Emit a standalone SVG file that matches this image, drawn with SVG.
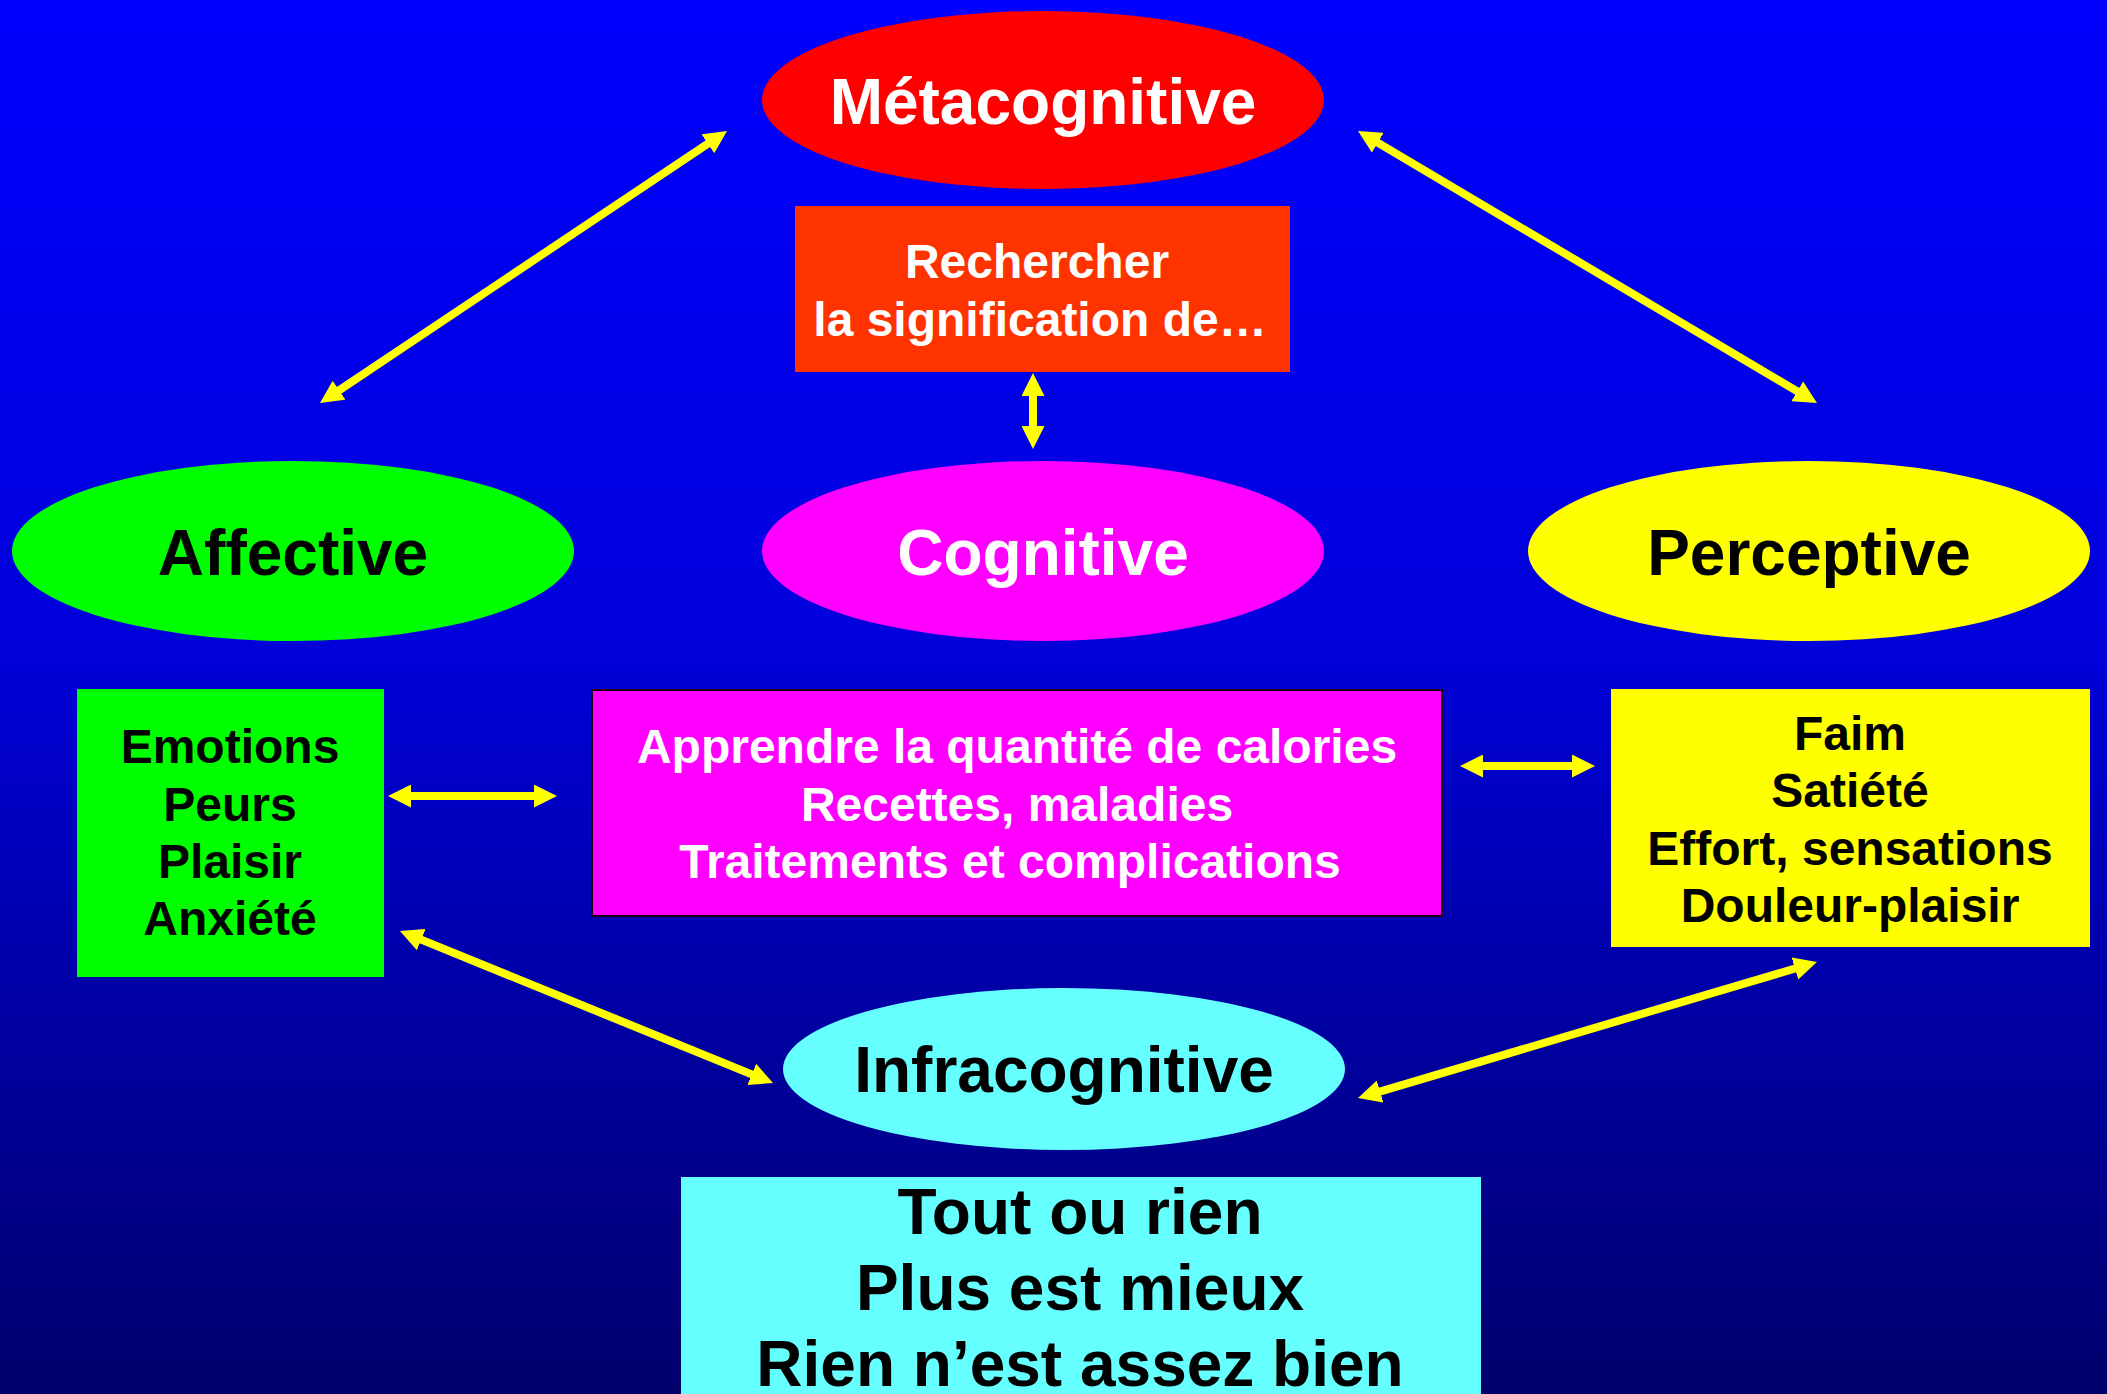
<svg xmlns="http://www.w3.org/2000/svg" width="2107" height="1394" viewBox="0 0 2107 1394">
  <defs>
    <linearGradient id="bg" x1="0" y1="0" x2="0" y2="1">
      <stop offset="0" stop-color="#0000FF"/>
      <stop offset="0.45" stop-color="#0000DC"/>
      <stop offset="1" stop-color="#00006C"/>
    </linearGradient>
    <marker id="ah" viewBox="0 0 23 23" refX="10" refY="11.5" markerWidth="23" markerHeight="23" markerUnits="userSpaceOnUse" orient="auto-start-reverse">
      <path d="M0,0 L23,11.5 L0,23 z" fill="#FFFF00"/>
    </marker>
    <style>
      .t { font-family: "Liberation Sans", Arial, sans-serif; font-weight: bold; text-anchor: middle; }
      .big { font-size: 64px; }
      .mid { font-size: 48px; }
      .w { fill: #FFFFFF; }
      .k { fill: #000000; }
      .conn line { stroke: #FFFF00; stroke-width: 8; marker-start: url(#ah); marker-end: url(#ah); }
    </style>
  </defs>

  <rect x="0" y="0" width="2107" height="1394" fill="url(#bg)"/>

  <g id="metacognitive">
    <ellipse cx="1043" cy="100" rx="281" ry="89" fill="#FF0000"/>
    <text class="t big w" x="1043" y="124">Métacognitive</text>
  </g>

  <g id="rechercher">
    <rect x="795" y="206" width="495" height="166" fill="#FF3300"/>
    <text class="t mid w" x="1037" y="278">Rechercher</text>
    <text class="t mid w" x="1040" y="336">la signification de…</text>
  </g>

  <g id="affective">
    <ellipse cx="293" cy="551" rx="281" ry="90" fill="#00FF00"/>
    <text class="t big k" x="293" y="575">Affective</text>
  </g>

  <g id="cognitive">
    <ellipse cx="1043" cy="551" rx="281" ry="90" fill="#FF00FF"/>
    <text class="t big w" x="1043" y="575">Cognitive</text>
  </g>

  <g id="perceptive">
    <ellipse cx="1809" cy="551" rx="281" ry="90" fill="#FFFF00"/>
    <text class="t big k" x="1809" y="575">Perceptive</text>
  </g>

  <g id="emotions">
    <rect x="77" y="689" width="307" height="288" fill="#00FF00"/>
    <text class="t mid k" x="230" y="763">Emotions</text>
    <text class="t mid k" x="230" y="821">Peurs</text>
    <text class="t mid k" x="230" y="878">Plaisir</text>
    <text class="t mid k" x="230" y="935">Anxiété</text>
  </g>

  <g id="apprendre">
    <rect x="592" y="690" width="850" height="226" fill="#FF00FF" stroke="#1a0010" stroke-width="2"/>
    <text class="t mid w" x="1017" y="763">Apprendre la quantité de calories</text>
    <text class="t mid w" x="1017" y="821">Recettes, maladies</text>
    <text class="t mid w" x="1010" y="878">Traitements et complications</text>
  </g>

  <g id="faim">
    <rect x="1611" y="689" width="479" height="258" fill="#FFFF00"/>
    <text class="t mid k" x="1850" y="750">Faim</text>
    <text class="t mid k" x="1850" y="807">Satiété</text>
    <text class="t mid k" x="1850" y="865">Effort, sensations</text>
    <text class="t mid k" x="1850" y="922">Douleur-plaisir</text>
  </g>

  <g id="infracognitive">
    <ellipse cx="1064" cy="1069" rx="281" ry="81" fill="#66FFFF"/>
    <text class="t big k" x="1064" y="1092">Infracognitive</text>
  </g>

  <g id="tout">
    <rect x="681" y="1177" width="800" height="230" fill="#66FFFF"/>
    <text class="t big k" x="1080" y="1234">Tout ou rien</text>
    <text class="t big k" x="1080" y="1310">Plus est mieux</text>
    <text class="t big k" x="1080" y="1386">Rien n’est assez bien</text>
  </g>

  <g id="connectors" class="conn">
    <line x1="330.8" y1="395.8" x2="716.2" y2="138.2"/>
    <line x1="1369.2" y1="137.6" x2="1805.8" y2="396.4"/>
    <line x1="1033" y1="386" x2="1033" y2="436"/>
    <line x1="401" y1="796" x2="544" y2="796"/>
    <line x1="1473" y1="766" x2="1582" y2="766"/>
    <line x1="412" y1="935.9" x2="761" y2="1078.1"/>
    <line x1="1370.5" y1="1094.3" x2="1804.5" y2="965.7"/>
  </g>
</svg>
